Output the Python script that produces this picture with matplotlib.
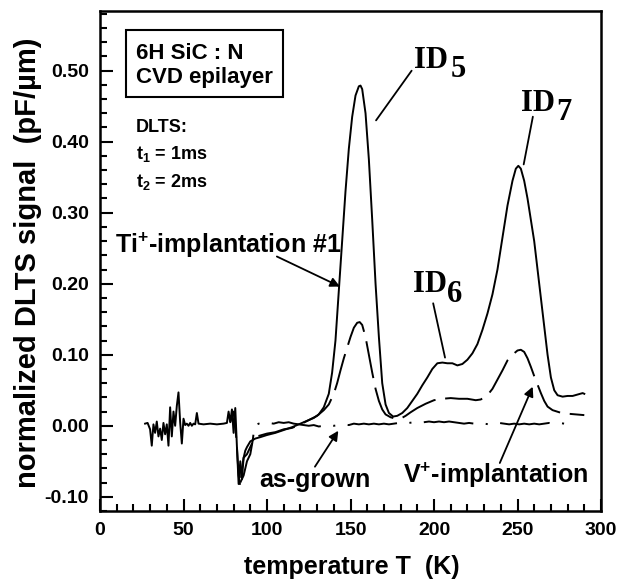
import matplotlib
matplotlib.use("Agg")
import matplotlib.pyplot as plt
from matplotlib.patches import Rectangle
from matplotlib.ticker import MultipleLocator, FixedLocator

plt.rcParams['font.family'] = ['Liberation Sans', 'DejaVu Sans']
plt.rcParams['font.weight'] = 'bold'
plt.rcParams['mathtext.fontset'] = 'custom'
plt.rcParams['mathtext.rm'] = 'Liberation Sans:bold'
plt.rcParams['mathtext.it'] = 'Liberation Sans:bold'
plt.rcParams['mathtext.bf'] = 'Liberation Sans:bold'
plt.rcParams['lines.scale_dashes'] = False

# ---- data ----
ti_T = [27, 28.5, 30, 31, 32, 33, 34, 35, 36, 37, 38, 39, 40, 41, 42, 43, 44, 45, 46, 47, 48, 49, 50,
        51, 52, 53, 54, 55, 56, 57, 58, 59, 62, 66, 70, 74, 76, 77, 78, 79, 80, 81, 82, 83, 84, 85, 86,
        87, 88, 90, 93, 96, 100, 105, 110, 115, 120, 125, 128, 131, 134, 137, 139, 141, 143, 145, 147,
        149, 151, 153, 155, 156, 157, 159, 161, 163, 165, 167, 169, 171, 173, 175.5, 178, 181, 184, 187,
        190, 193, 196, 199, 202, 205, 208, 211, 214, 217, 220, 223, 226, 229, 232, 235, 238, 241, 244,
        247, 249, 250.5, 252, 254, 256, 258, 260, 262, 264, 266, 268, 270, 272, 274, 277, 280, 283, 286,
        289, 290]
ti_v = [0.003, 0.004, -0.005, -0.028, 0.002, -0.010, 0.006, -0.015, -0.004, -0.020, 0.004, -0.012,
        0.002, -0.028, 0.026, -0.015, 0.020, 0.000, 0.028, 0.047, 0.005, -0.025, 0.010,
        0.001, 0.003, 0.000, 0.004, 0.000, 0.003, 0.002, 0.018, 0.003, 0.002, 0.003, 0.002, 0.003,
        0.004, 0.020, 0.005, 0.023, -0.010, 0.025, -0.030, -0.082, -0.050, -0.075, -0.045,
        -0.035, -0.030, -0.022, -0.018, -0.016, -0.013, -0.010, -0.006, -0.002, 0.003, 0.008, 0.011,
        0.016, 0.026, 0.045, 0.075, 0.120, 0.190, 0.260, 0.330,
        0.390, 0.435, 0.465, 0.478, 0.479, 0.474, 0.440, 0.375, 0.290, 0.200, 0.125, 0.060, 0.030,
        0.018, 0.013, 0.014, 0.018, 0.025, 0.035,
        0.045, 0.057, 0.068, 0.080, 0.088, 0.089, 0.088, 0.088, 0.085, 0.087, 0.093, 0.102, 0.115,
        0.135, 0.158, 0.185, 0.220, 0.265, 0.310,
        0.345, 0.362, 0.366, 0.362, 0.345, 0.320, 0.290, 0.260, 0.220, 0.180, 0.140, 0.100, 0.068,
        0.050, 0.043, 0.041, 0.042, 0.042, 0.044, 0.046, 0.045]

v_T = [78, 80, 81, 82, 83, 84, 85, 86, 88, 90, 92, 94, 97, 100, 105, 110, 115, 120, 125, 130, 134,
       137, 140, 142, 144, 146, 148, 150, 152, 154, 155.5, 157, 159, 161, 163, 165, 167, 169, 171,
       174, 177, 180, 183, 186, 190, 195, 200, 205, 210, 215, 220, 225, 228, 232, 235, 238, 241, 244,
       247, 250, 252, 254, 256, 258, 260, 262, 264, 266, 268, 271, 275, 280, 285, 290]
v_v = [0.005, 0.020, 0.000, -0.030, -0.070, -0.085, -0.060, -0.045, -0.040, -0.030, -0.020, -0.015,
       -0.013, -0.011, -0.009, -0.005, -0.003, 0.002, 0.008, 0.014, 0.022,
       0.030, 0.045, 0.060, 0.078, 0.095, 0.110, 0.125, 0.138, 0.145, 0.146, 0.142, 0.125, 0.100,
       0.075, 0.052, 0.035, 0.023, 0.016,
       0.012, 0.010, 0.010, 0.014, 0.019, 0.025, 0.031, 0.036, 0.038, 0.039, 0.038, 0.038, 0.036,
       0.037, 0.043, 0.052, 0.065, 0.078, 0.092,
       0.100, 0.106, 0.107, 0.104, 0.095, 0.083, 0.070, 0.058, 0.046, 0.035, 0.027, 0.022, 0.019,
       0.017, 0.016, 0.015]

ag_T = [84, 86, 88, 90, 91.5, 92.5, 95, 98, 101, 104, 107, 110, 113, 116, 119, 122, 125, 128, 131,
        134, 137, 140, 143, 146, 149, 152, 155, 158, 161, 164, 167, 170, 173, 176, 179, 182, 185, 188,
        191, 194, 197, 200, 203, 206, 209, 212, 215, 218, 221, 224, 227, 230, 233, 236, 239, 242, 245,
        248, 251, 254, 257, 260, 263, 266, 269, 272, 275, 278, 281, 284]
ag_v = [-0.080, -0.070, -0.050, -0.040, -0.020, 0.000, 0.003, 0.002, 0.004, 0.003, 0.005, 0.004,
        0.005, 0.003, 0.002, 0.001, 0.000, 0.001, -0.001, 0.000, 0.001, 0.000, 0.001, 0.002, 0.001,
        0.003, 0.002, 0.003, 0.002, 0.003, 0.002, 0.003, 0.002, 0.003, 0.004, 0.003, 0.004, 0.005,
        0.004, 0.005, 0.006, 0.005, 0.006, 0.005, 0.006, 0.005, 0.004, 0.003, 0.004, 0.003, 0.002,
        0.003, 0.002, 0.003, 0.004, 0.003, 0.002, 0.003, 0.002, 0.003, 0.002, 0.003, 0.002, 0.003,
        0.004, 0.003, 0.004, 0.003, 0.004, 0.003]

x_ticks = [0, 50, 100, 150, 200, 250, 300]
y_ticks = [-0.10, 0.00, 0.10, 0.20, 0.30, 0.40, 0.50]

# ---- figure ----
fig = plt.figure(figsize=(6.2, 5.82), dpi=100)
ax = fig.add_axes([100/620, 71/582, 501/620, 500/582])

ax.plot(ti_T, ti_v, color='black', lw=1.4, solid_joinstyle='round')
ax.plot(v_T, v_v, color='black', lw=1.4, dashes=(27, 7))
ax.plot(ag_T, ag_v, color='black', lw=1.4, dashes=(36, 9, 1.5, 9))

ax.set_xlim(0, 300)
ax.set_ylim(-0.12, 0.584)
ax.xaxis.set_major_locator(FixedLocator(x_ticks))
ax.yaxis.set_major_locator(FixedLocator(y_ticks))
ax.xaxis.set_minor_locator(MultipleLocator(10))
ax.yaxis.set_minor_locator(MultipleLocator(0.02))
ax.set_xticklabels([str(t) for t in x_ticks])
ax.set_yticklabels([f"{t:.2f}" for t in y_ticks])
ax.tick_params(which='both', direction='in', top=False, right=False, width=1.5, labelsize=14)
ax.tick_params(which='major', length=9, pad=8)
ax.tick_params(which='minor', length=5)
for s in ax.spines.values():
    s.set_linewidth(1.8)

fig.text(352/620, 1 - 574/582, "temperature T  (K)", fontsize=18, ha='center', va='baseline')
fig.text(14/620, 1 - 263/582, "normalized DLTS signal  (pF/\u00b5m)", fontsize=21,
         rotation=90, ha='left', va='center')

# sample box
ax.add_patch(Rectangle((0.0519, 0.8274), 0.3128, 0.1346, transform=ax.transAxes,
                       fill=False, lw=1.5, ec='black'))
ax.text(0.0719, 0.9034, "6H SiC : N", transform=ax.transAxes, fontsize=16, va='baseline')
ax.text(0.0719, 0.8554, "CVD epilayer", transform=ax.transAxes, fontsize=16, va='baseline')
ax.text(0.0719, 0.7586, "DLTS:", transform=ax.transAxes, fontsize=13, va='baseline')
ax.text(0.0719, 0.7034, "t$_1$ = 1ms", transform=ax.transAxes, fontsize=13, va='baseline')
ax.text(0.0719, 0.6486, "t$_2$ = 2ms", transform=ax.transAxes, fontsize=13, va='baseline')

# curve labels with arrows
ax.text(0.0299, 0.5154, "Ti$^{+}$-implantation #1", transform=ax.transAxes, fontsize=18, va='baseline')
ax.annotate("", xy=(143.7, 0.196), xycoords='data', xytext=(0.353, 0.509), textcoords='axes fraction',
            arrowprops=dict(arrowstyle='-|>', color='black', lw=1.3, mutation_scale=14,
                            shrinkA=0, shrinkB=0))
ax.text(0.3174, 0.048, "as-grown", transform=ax.transAxes, fontsize=18, va='baseline')
ax.annotate("", xy=(142.7, -0.007), xycoords='data', xytext=(0.429, 0.0886), textcoords='axes fraction',
            arrowprops=dict(arrowstyle='-|>', color='black', lw=1.3, mutation_scale=14,
                            shrinkA=0, shrinkB=0))
ax.text(0.6048, 0.056, "V$^{+}$-implantation", transform=ax.transAxes, fontsize=18, va='baseline')
ax.annotate("", xy=(259.1, 0.055), xycoords='data', xytext=(0.798, 0.096), textcoords='axes fraction',
            arrowprops=dict(arrowstyle='-|>', color='black', lw=1.3, mutation_scale=14,
                            shrinkA=0, shrinkB=0))

# peak labels
serif = dict(family=['Liberation Serif', 'DejaVu Serif'], fontsize=22, weight='bold', va='baseline')
for (idx, idy, nx, ny, digit, lx0, ly0, tipT, tipv) in [
        (0.6267, 0.8866, 0.7006, 0.8686, "5", 0.622, 0.8806, 165.3, 0.43),
        (0.6247, 0.4386, 0.6926, 0.4186, "6", 0.665, 0.4154, 206.6, 0.096),
        (0.8397, 0.8006, 0.9114, 0.7820, "7", 0.864, 0.7886, 253.7, 0.368)]:
    ax.text(idx, idy, "ID", transform=ax.transAxes, **serif)
    ax.text(nx, ny, digit, transform=ax.transAxes, **serif)
    ax.annotate("", xy=(tipT, tipv), xycoords='data', xytext=(lx0, ly0), textcoords='axes fraction',
                arrowprops=dict(arrowstyle='-', color='black', lw=1.3, shrinkA=0, shrinkB=0))

fig.savefig("out.png", dpi=100)
